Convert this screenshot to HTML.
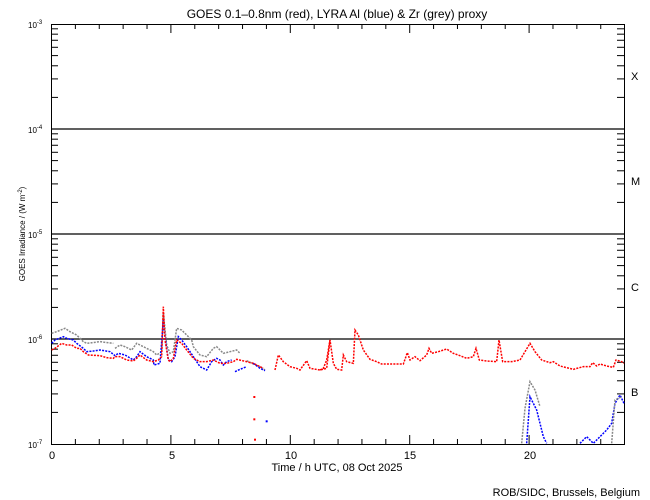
<!DOCTYPE html>
<html><head><style>
body{margin:0;background:#fff;}
svg{display:block;font-family:"Liberation Sans",sans-serif;}
</style></head><body>
<svg id="s" width="650" height="500" viewBox="0 0 650 500" xmlns="http://www.w3.org/2000/svg">
<rect width="650" height="500" fill="#fff"/>
<text x="337" y="18" font-size="12" text-anchor="middle">GOES 0.1–0.8nm (red), LYRA Al (blue) &amp; Zr (grey) proxy</text>
<rect x="51.5" y="24.5" width="573" height="420" fill="none" stroke="#000" stroke-width="1"/>
<g stroke="#000" stroke-width="1.3">
<line x1="51" y1="129" x2="624" y2="129"/><line x1="51" y1="234" x2="624" y2="234"/><line x1="51" y1="339" x2="624" y2="339"/>
</g>
<g id="ticks" stroke="#000" stroke-width="1"></g>
<g font-size="8">
<text x="28" y="28">10<tspan dy="-4" font-size="6">-3</tspan></text>
<text x="28" y="133">10<tspan dy="-4" font-size="6">-4</tspan></text>
<text x="28" y="238">10<tspan dy="-4" font-size="6">-5</tspan></text>
<text x="28" y="343">10<tspan dy="-4" font-size="6">-6</tspan></text>
<text x="28" y="448">10<tspan dy="-4" font-size="6">-7</tspan></text>
</g>
<g font-size="11" text-anchor="middle">
<text x="52" y="459">0</text><text x="172" y="459">5</text><text x="291" y="459">10</text><text x="410" y="459">15</text><text x="530" y="459">20</text>
<text x="337" y="471">Time / h UTC, 08 Oct 2025</text>
</g>
<g font-size="11">
<text x="631" y="80">X</text><text x="631" y="185">M</text><text x="631" y="291">C</text><text x="631" y="396">B</text>
<text x="640" y="496" text-anchor="end">ROB/SIDC, Brussels, Belgium</text>
</g>
<text transform="translate(25,234) rotate(-90)" font-size="8" text-anchor="middle">GOES Irradiance / (W m<tspan dy="-3" font-size="6">-2</tspan><tspan dy="3">)</tspan></text>
<g transform="translate(0,290) scale(0.33333)" fill="none" stroke-width="1.5" stroke-dasharray="2 1.2">
<polyline vector-effect="non-scaling-stroke" stroke="#888" points="155,130 170,125 195,115 210,125 230,135 250,155 260,160 300,155 340,160"/>
<polyline vector-effect="non-scaling-stroke" stroke="#888" points="345,175 360,165 375,170 395,180 410,160 440,175 460,185 470,195 485,185 490,70 500,165 510,190 520,185 530,115 545,120 560,135 575,150 580,170 600,195 620,200 640,175 650,170 670,190 690,185 710,180 720,190"/>
<polyline vector-effect="non-scaling-stroke" stroke="#888" points="740,212 760,222 780,230 795,240"/>
<polyline vector-effect="non-scaling-stroke" stroke="#00f" points="155,160 165,150 190,140 200,145 220,150 230,160 250,175 260,185 280,183 300,180 330,185 345,197 355,190 375,195 400,210 410,200 420,185 440,200 460,210 462,225 480,220 490,90 495,140 505,210 515,215 525,200 535,140 545,150 560,170 580,200 600,230 620,240 635,215 650,205 660,210 670,225 680,215 695,210"/>
<polyline vector-effect="non-scaling-stroke" stroke="#00f" points="705,245 720,238 740,230"/>
<polyline vector-effect="non-scaling-stroke" stroke="#00f" points="760,220 780,235 795,242"/>
<polyline vector-effect="non-scaling-stroke" stroke="#f00" points="155,180 165,175 185,160 200,165 215,165 230,175 240,175 250,185 265,195 300,197 320,203 340,205 345,200 360,200 380,210 400,213 410,205 420,195 440,210 460,215 475,210 485,200 490,50 495,150 505,210 510,215 520,205 530,150 545,160 560,180 580,205 600,215 620,215 640,210 660,220 680,220 700,215 710,208 740,215 760,220 780,230 790,235"/>
<polyline vector-effect="non-scaling-stroke" stroke="#f00" points="825,240 835,195 850,215 870,230 890,235 900,240 920,212 930,235 960,240 980,235 990,150"/>
<g fill="#f00" stroke="none"><rect x="760" y="318" width="6" height="6"/><rect x="760" y="385" width="6" height="6"/><rect x="762" y="446" width="6" height="6"/></g>
<rect x="797" y="391" width="6" height="6" fill="#00f" stroke="none"/>
</g>
<g transform="translate(320,290) scale(0.33333)" fill="none" stroke-width="1.5" stroke-dasharray="2 1.2">
<polyline vector-effect="non-scaling-stroke" stroke="#f00" points="0,240 10,235 20,210 30,150 40,220 50,238 65,240 70,195 80,215 100,220 105,120 115,135 130,180 150,208 170,215 185,222 210,222 250,222 262,188 270,210 285,200 300,212 320,195 327,175 335,190 355,185 380,177 400,190 420,197 440,205 460,200 468,175 478,210 500,213 530,215 537,150 548,215 575,215 600,210 630,160 645,185 665,210 690,218 700,215 720,228 760,238 790,230 810,230 818,218 830,228 840,222 860,228 880,232 888,210 905,215 912,220"/>
<polyline vector-effect="non-scaling-stroke" stroke="#888" points="605,460 615,355 630,275 645,300 660,350"/>
<polyline vector-effect="non-scaling-stroke" stroke="#00f" points="620,460 630,320 650,360 670,440 680,460"/>
<polyline vector-effect="non-scaling-stroke" stroke="#00f" points="780,460 800,440 820,460 840,440 860,420 875,400 885,340 900,315 912,340"/>
<polyline vector-effect="non-scaling-stroke" stroke="#888" points="875,460 885,330 905,320"/>
</g>
</svg>
<script>
var g=document.getElementById('ticks'),s='';
function L(a,b,c,d){s+='<line x1="'+a+'" y1="'+b+'" x2="'+c+'" y2="'+d+'"/>';}
for(var h=1;h<24;h++){var x=51.5+h*23.88;var len=(h%5==0)?9:5;L(x,444,x,444-len);L(x,24,x,24+len);}
for(var d=0;d<4;d++){for(var m=2;m<=9;m++){var y=444-105*(d+Math.log10(m));L(51,y,58,y);L(624,y,617,y);}}
g.innerHTML=s;
</script>
</body></html>
